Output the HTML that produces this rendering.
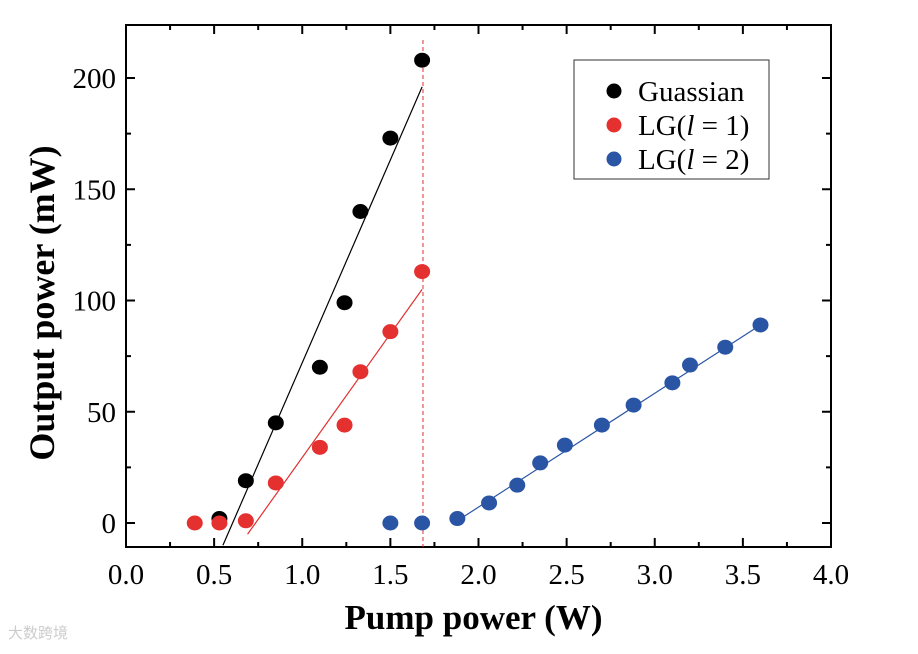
<!DOCTYPE html>
<html><head><meta charset="utf-8"><style>
body{margin:0;background:#fff;width:918px;height:649px;overflow:hidden}
text{font-family:"Liberation Serif",serif}
</style></head><body>
<svg id="c" width="918" height="649"></svg>
<script>
const xTicks=[0,0.5,1,1.5,2,2.5,3,3.5,4];
const xTickLabels=["0.0","0.5","1.0","1.5","2.0","2.5","3.0","3.5","4.0"];
const yTicks=[0,50,100,150,200];
const yTickLabels=["0","50","100","150","200"];
const gX=[0.53,0.68,0.85,1.1,1.24,1.33,1.5,1.68];
const gY=[2,19,45,70,99,140,173,208];
const r1X=[0.39,0.53,0.68,0.85,1.1,1.24,1.33,1.5,1.68];
const r1Y=[0,0,1,18,34,44,68,86,113];
const b2X=[1.5,1.68,1.88,2.06,2.22,2.35,2.49,2.7,2.88,3.1,3.2,3.4,3.6];
const b2Y=[0,0,2,9,17,27,35,44,53,63,71,79,89];
const gFitX=[0.55,1.68], gFitY=[-10,196];
const r1FitX=[0.69,1.68], r1FitY=[-5,105];
const b2FitX=[1.88,3.6], b2FitY=[1,89];
const dashX=1.685;

const L=126,R=831,T=25,B=547;
const X=v=>L+v/4*(R-L);
const Y=v=>523-v*2.225;
const svg=document.getElementById('c');
const NS='http://www.w3.org/2000/svg';
function mk(t,a,p){const e=document.createElementNS(NS,t);for(const k in a)e.setAttribute(k,a[k]);(p||svg).appendChild(e);return e;}

let e=mk('rect',{x:L,y:T,width:R-L,height:B-T,fill:'none',stroke:'#000','stroke-width':2});


for(let i=0;i<=16;i++){const v=i*0.25,maj=i%2==0,len=maj?9:5;
 mk('line',{x1:X(v),x2:X(v),y1:B,y2:B-len,stroke:'#000','stroke-width':2});
 mk('line',{x1:X(v),x2:X(v),y1:T,y2:T+len,stroke:'#000','stroke-width':2});}
xTicks.forEach((v,i)=>{e=mk('text',{x:X(v),y:B+37,'text-anchor':'middle','font-size':29});e.textContent=xTickLabels[i];

});
for(let v=0;v<=220;v+=25){const maj=v%50==0,len=maj?9:5;
 mk('line',{x1:L,x2:L+len,y1:Y(v),y2:Y(v),stroke:'#000','stroke-width':2});
 mk('line',{x1:R,x2:R-len,y1:Y(v),y2:Y(v),stroke:'#000','stroke-width':2});}
yTicks.forEach((v,i)=>{e=mk('text',{x:L-10,y:Y(v)+10,'text-anchor':'end','font-size':29});e.textContent=yTickLabels[i];

});
e=mk('text',{x:(L+R)/2-5,y:629,'text-anchor':'middle','font-size':35,'font-weight':'bold'});e.textContent='Pump power (W)';


e=mk('text',{x:0,y:0,'text-anchor':'middle','font-size':36,'font-weight':'bold',transform:`translate(54,303) rotate(-90)`});e.textContent='Output power (mW)';


e=mk('line',{x1:X(dashX),x2:X(dashX),y1:T+15,y2:B,stroke:'#e03030','stroke-width':1,'stroke-dasharray':'4,3'});


function fit(xs,ys,c,n){e=mk('line',{x1:X(xs[0]),y1:Y(ys[0]),x2:X(xs[1]),y2:Y(ys[1]),stroke:c,'stroke-width':1.2});

}
fit(gFitX,gFitY,'#000','gaussian-fit-line');
fit(r1FitX,r1FitY,'#e03030','lg1-fit-line');
fit(b2FitX,b2FitY,'#2a55a5','lg2-fit-line');
function pts(xs,ys,c,n){xs.forEach((x,i)=>{e=mk('ellipse',{cx:X(x),cy:Y(ys[i]),rx:8,ry:7.5,fill:c});

});}
pts(gX,gY,'#000','gaussian-point');
pts(r1X,r1Y,'#e53030','lg1-point');
pts(b2X,b2Y,'#2a55a5','lg2-point');
const lg=mk('g',{});


mk('rect',{x:574,y:60,width:195,height:119,fill:'#fff',stroke:'#333','stroke-width':1},lg);
[['#000',null],['#e53030','1'],['#2a55a5','2']].forEach((d,i)=>{const yy=91+i*34;
 mk('circle',{cx:614,cy:yy,r:7.5,fill:d[0]},lg);
 const t=mk('text',{x:638,y:yy+10,'font-size':29},lg);
 
 
 if(!d[1])t.textContent='Guassian';
 else t.innerHTML='LG(<tspan font-style="italic">l</tspan> = '+d[1]+')';
});
e=mk('text',{x:8,y:638,'font-size':15,fill:'#ccc'});e.textContent='大数跨境';


e.style.fontFamily='"Noto Sans CJK SC",sans-serif';
</script>
</body></html>
